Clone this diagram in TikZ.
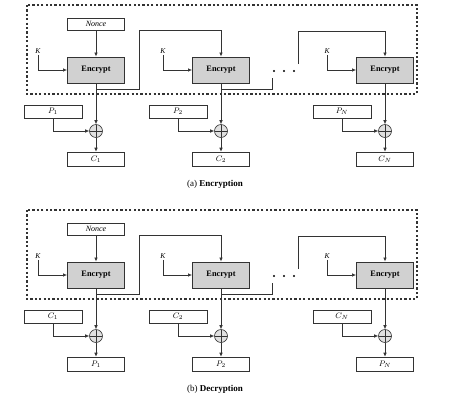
\documentclass[tikz,border=0pt]{standalone}
\usepackage{fontspec}
\setmainfont{Liberation Serif}
\usetikzlibrary{positioning,arrows.meta}

\begin{document}
\begin{tikzpicture}[x=1pt,y=-1pt,
  line width=0.6pt, draw=black!80,
  arr/.style={-{Latex[length=4pt,width=3.5pt]}},
  encbox/.style={draw, line width=1pt, fill=black!18, minimum width=57pt,
    minimum height=26pt, inner sep=0pt, font=\fontsize{8.3}{10}\selectfont\bfseries},
  txtbox/.style={draw, fill=white, minimum width=58pt, minimum height=13pt,
    inner sep=0pt, font=\fontsize{8}{9}\selectfont},
  xorc/.style={draw, circle, fill=black!12, minimum size=13pt, inner sep=0pt,
    path picture={\draw (path picture bounding box.north) -- (path picture bounding box.south)
      (path picture bounding box.west) -- (path picture bounding box.east);}},
  keylab/.style={inner sep=1pt, font=\fontsize{7.5}{9}\selectfont\itshape}]
\useasboundingbox (0,0) rectangle (464,408);
\foreach \pn/\yy/\cap/\inp/\outp in {a/0/Encryption/P/C, b/205/Decryption/C/P} {
  \begin{scope}[shift={(0,\yy)}]
    % dashed counter-mode part
    \draw[line width=1.2pt, dash pattern=on 2.2pt off 2.2pt] (27,5) rectangle (417,94);
    \node[txtbox, minimum width=57pt, minimum height=12pt, font=\fontsize{8}{9}\selectfont\itshape]
      (nonce\pn) at (96,24) {Nonce};
    \foreach \c/\x/\s in {1/96/1, 2/221/2, 3/385/N} {
      \node[encbox] (enc\c\pn) at (\x,70) {Encrypt};
      \node[keylab] (key\c\pn) at ({\x-58},51) {K};
      \draw[arr] (key\c\pn.south) |- (enc\c\pn.west);
      \node[txtbox] (in\c\pn) at ({\x-43},111.5) {$\inp_{\s}$};
      \node[xorc] (xor\c\pn) at (\x,131) {};
      \node[txtbox, minimum width=57pt, minimum height=14pt] (out\c\pn) at (\x,159) {$\outp_{\s}$};
      \draw[arr] (enc\c\pn) -- (xor\c\pn);
      \draw[arr] (in\c\pn) |- (xor\c\pn);
      \draw[arr] (xor\c\pn) -- (out\c\pn);
    }
    \draw[arr] (nonce\pn) -- (enc1\pn);
    % counter chain
    \draw[arr] (enc1\pn.south) -- (96,89) -| (139,30) -| (enc2\pn.north);
    \coordinate (dotsin\pn) at (272,78);
    \coordinate (dotsout\pn) at (298,64);
    \draw (enc2\pn.south) -- (221,89) -| (dotsin\pn);
    \foreach \d in {274,284,294}
      \fill (\d,71) circle (1.2pt);
    \draw[arr] (dotsout\pn) -- (298,31) -| (enc3\pn.north);
    \node[font=\fontsize{9}{11}\selectfont] (cap\pn) at (215,184.5) {(\pn) \textbf{\cap}};
  \end{scope}
}
\end{tikzpicture}
\end{document}
